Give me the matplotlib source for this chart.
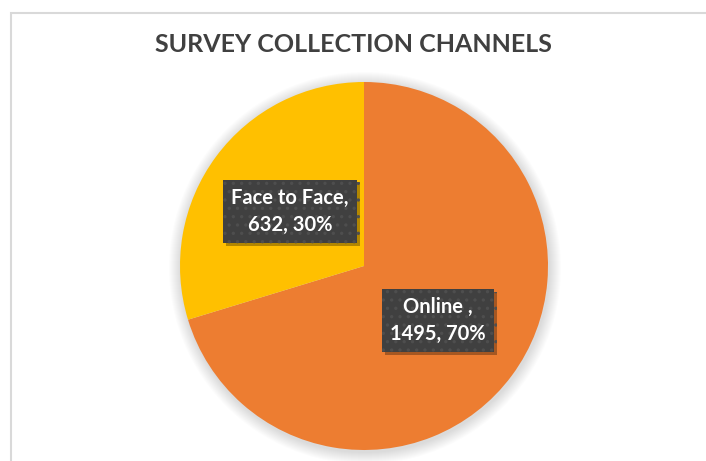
import matplotlib.pyplot as plt
import matplotlib.patches as mpatches
import matplotlib.patheffects as pe
import numpy as np

# data
channels = ['Online ', 'Face to Face']
counts = [1495, 632]
colors = ['#ED7D31', '#FFC000']

W, H = 706, 461
plt.rcParams['hatch.linewidth'] = 1.2

fig = plt.figure(figsize=(W/100, H/100), dpi=100)
ax = fig.add_axes([0, 0, 1, 1])
ax.set_xlim(0, W)
ax.set_ylim(0, H)
ax.axis('off')

# chart area border (cropped on right/bottom)
ax.add_patch(mpatches.Rectangle((10.5, -20), W + 40, H - 13.5 + 20, fill=False,
                                ec='#D9D9D9', lw=1.5))

cx, cy, r = 364, 195, 184

# soft shadow behind pie
for i in range(12):
    ax.add_patch(mpatches.Circle((cx + 1, cy - 2), r + 12 - i, color='black',
                                 alpha=0.012, lw=0, zorder=1))

wedges, _ = ax.pie(counts, colors=colors, startangle=90, counterclock=False,
                   center=(cx, cy), radius=r, wedgeprops=dict(lw=0, zorder=2))
ax.set_xlim(0, W)
ax.set_ylim(0, H)
ax.set_aspect('equal')

total = sum(counts)
for w, name, n in zip(wedges, channels, counts):
    mid = np.deg2rad((w.theta1 + w.theta2) / 2)
    x = cx + 0.5 * r * np.cos(mid)
    y = cy + 0.5 * r * np.sin(mid)
    label = '%s,\n%d, %d%%' % (name, n, round(100 * n / total))
    t = ax.text(x, y, label, ha='center', va='center', color='white', fontsize=14.5,
                fontweight='bold', family='Lato', linespacing=1.45, zorder=5,
                bbox=dict(boxstyle='square,pad=0.4', fc='#404040', ec='#4e4e4e',
                          lw=0, hatch='..'))
    t.get_bbox_patch().set_path_effects([
        pe.SimplePatchShadow(offset=(2, -2), shadow_rgbFace='black', alpha=0.3),
        pe.Normal()])

ax.text(W / 2, H - 45, 'SURVEY COLLECTION CHANNELS', ha='center', va='center',
        fontsize=18, fontweight='bold', family='Lato', color='#404040')

fig.savefig('out.png', dpi=100)
